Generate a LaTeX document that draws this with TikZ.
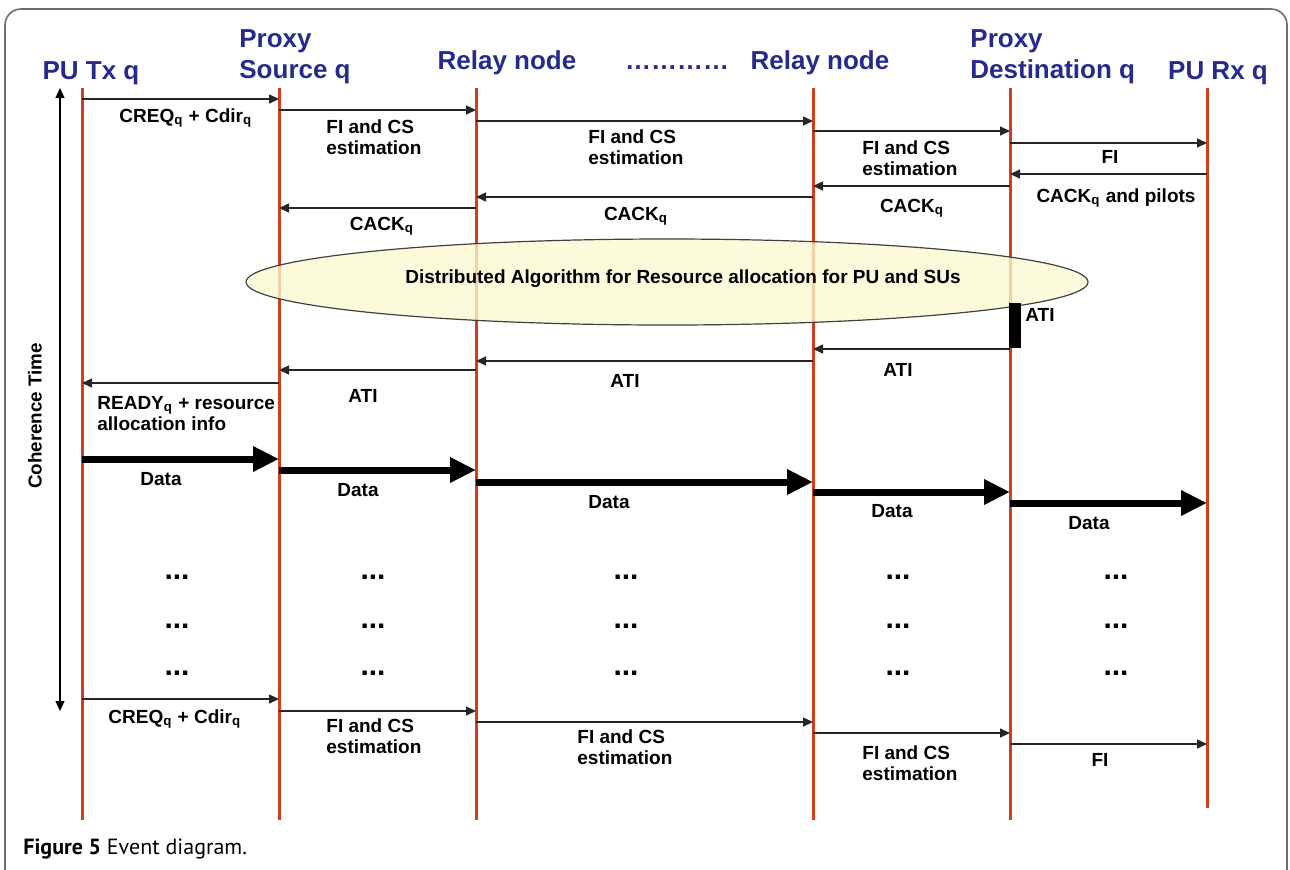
\documentclass[tikz,border=0pt]{standalone}
\usepackage{fontspec}
\setmainfont{Liberation Sans}
\newfontfamily\capfont{PT Sans}
\usetikzlibrary{arrows.meta,shapes.geometric}
\definecolor{lifered}{RGB}{214,62,26}
\definecolor{hblue}{RGB}{38,42,140}
\definecolor{ellfill}{RGB}{250,250,210}
\definecolor{framegray}{RGB}{110,110,110}
\begin{document}
\begin{tikzpicture}[x=0.5pt,y=-0.5pt,
  lifeline/.style={draw=lifered,line width=1.5pt},
  msg/.style={draw=black!85,line width=0.75pt,-{Triangle[length=5pt,width=4.5pt]}},
  datamsg/.style={draw=black,line width=3.5pt,-{Triangle[length=13pt,width=12pt]}},
  timearrow/.style={draw=black,line width=0.6pt,{Triangle[length=5pt,width=4.5pt]}-{Triangle[length=5pt,width=4.5pt]}},
  hdr/.style={font=\bfseries\fontsize{13}{15}\selectfont,text=hblue,inner sep=0pt},
  lbl/.style={font=\bfseries\fontsize{9.5}{10.5}\selectfont,align=left,inner sep=0pt},
  dotsym/.style={font=\bfseries\fontsize{15}{15}\selectfont,inner sep=0pt},
]
\useasboundingbox (0,0) rectangle (1290,869);
\draw[framegray,line width=0.8pt,rounded corners=8pt] (5,9) rectangle (1287,930);

% headers
\node[hdr,anchor=base] (hTx) at (91,79) {PU Tx q};
\node[hdr,anchor=base west] (hPS1) at (239,47) {Proxy};
\node[hdr,anchor=base west] (hPS2) at (239,78) {Source q};
\node[hdr,anchor=base] (hR1) at (507,69) {Relay node};
\node[hdr,anchor=base] (hDots) at (677,69) {…………};
\node[hdr,anchor=base] (hR2) at (820,69) {Relay node};
\node[hdr,anchor=base west] (hPD1) at (970,47) {Proxy};
\node[hdr,anchor=base west] (hPD2) at (970,78) {Destination q};
\node[hdr,anchor=base] (hRx) at (1218,79) {PU Rx q};

% lifelines
\coordinate (L1) at (82,88);
\coordinate (L2) at (279,88);
\coordinate (L3) at (476,88);
\coordinate (L4) at (813,88);
\coordinate (L5) at (1010,88);
\coordinate (L6) at (1207,88);
\foreach \c in {L1,L2,L3,L4,L5} \draw[lifeline] (\c) -- (\c |- 0,820);
\draw[lifeline] (L6) -- (L6 |- 0,808);

% coherence time
\coordinate (tTop) at (60,88);
\coordinate (tBot) at (60,711);
\draw[timearrow] (tBot) -- (tTop);
\node[font=\bfseries\fontsize{9.4}{10}\selectfont,rotate=90,inner sep=0pt] (coh) at (35,416) {Coherence Time};

% request phase
\draw[msg] (L1 |- 0,99) -- (L2 |- 0,99);
\node[lbl,anchor=base west] (m1) at (119,122) {CREQ\textsubscript{q} + Cdir\textsubscript{q}};
\draw[msg] (L2 |- 0,110) -- (L3 |- 0,110);
\node[lbl,anchor=base west] (m2) at (326,154) {FI and CS\\estimation};
\draw[msg] (L3 |- 0,121) -- (L4 |- 0,121);
\node[lbl,anchor=base west] (m3) at (588,164) {FI and CS\\estimation};
\draw[msg] (L4 |- 0,131) -- (L5 |- 0,131);
\node[lbl,anchor=base west] (m4) at (862,175) {FI and CS\\estimation};
\draw[msg] (L5 |- 0,143) -- (L6 |- 0,143);
\node[lbl,anchor=base] (m5) at (1110,163) {FI};

% acknowledgements
\draw[msg] (L6 |- 0,174) -- (L5 |- 0,174);
\node[lbl,anchor=base] (m6) at (1116,202) {CACK\textsubscript{q} and pilots};
\draw[msg] (L5 |- 0,186) -- (L4 |- 0,186);
\node[lbl,anchor=base] (m7) at (912,212) {CACK\textsubscript{q}};
\draw[msg] (L4 |- 0,197) -- (L3 |- 0,197);
\node[lbl,anchor=base] (m8) at (636,220) {CACK\textsubscript{q}};
\draw[msg] (L3 |- 0,208) -- (L2 |- 0,208);
\node[lbl,anchor=base] (m9) at (382,230) {CACK\textsubscript{q}};

% algorithm ellipse
\node[ellipse,draw=black!75,line width=0.6pt,fill=ellfill,fill opacity=0.78,minimum width=421pt,minimum height=43pt,inner sep=0pt] (algo) at (667,282) {};
\node[lbl,anchor=base] (algoTxt) at (683,283) {Distributed Algorithm for Resource allocation for PU and SUs};

% ATI
\node[fill=black,inner sep=0pt,minimum width=6pt,minimum height=22.5pt,anchor=north west] (bar) at (1009,303) {};
\node[lbl,anchor=base west] (ati0) at (1025,321) {ATI};
\draw[msg] (L5 |- 0,349) -- (L4 |- 0,349);
\node[lbl,anchor=base] (ati1) at (898,376) {ATI};
\draw[msg] (L4 |- 0,361) -- (L3 |- 0,361);
\node[lbl,anchor=base] (ati2) at (625,387) {ATI};
\draw[msg] (L3 |- 0,370) -- (L2 |- 0,370);
\node[lbl,anchor=base] (ati3) at (363,402) {ATI};
\draw[msg] (L2 |- 0,383) -- (L1 |- 0,383);
\node[lbl,anchor=base west] (ready) at (97,430) {READY\textsubscript{q} + resource\\allocation info};

% data
\draw[datamsg] (L1 |- 0,459) -- (L2 |- 0,459);
\node[lbl,anchor=base] (d1) at (161,485) {Data};
\draw[datamsg] (L2 |- 0,470) -- (L3 |- 0,470);
\node[lbl,anchor=base] (d2) at (358,496) {Data};
\draw[datamsg] (L3 |- 0,482) -- (L4 |- 0,482);
\node[lbl,anchor=base] (d3) at (609,508) {Data};
\draw[datamsg] (L4 |- 0,492) -- (L5 |- 0,492);
\node[lbl,anchor=base] (d4) at (892,517) {Data};
\draw[datamsg] (L5 |- 0,503) -- (L6 |- 0,503);
\node[lbl,anchor=base] (d5) at (1089,529) {Data};

% continuation dots
\foreach \x/\i in {177/a,373/b,626/c,898/d,1116/e}
  \foreach \y/\j in {577/1,626/2,673/3}
    \node[dotsym] (dot\i\j) at (\x,\y) {...};

% repeat phase
\draw[msg] (L1 |- 0,699) -- (L2 |- 0,699);
\node[lbl,anchor=base west] (n1) at (108,723) {CREQ\textsubscript{q} + Cdir\textsubscript{q}};
\draw[msg] (L2 |- 0,711) -- (L3 |- 0,711);
\node[lbl,anchor=base west] (n2) at (326,753) {FI and CS\\estimation};
\draw[msg] (L3 |- 0,722) -- (L4 |- 0,722);
\node[lbl,anchor=base west] (n3) at (577,764) {FI and CS\\estimation};
\draw[msg] (L4 |- 0,733) -- (L5 |- 0,733);
\node[lbl,anchor=base west] (n4) at (862,780) {FI and CS\\estimation};
\draw[msg] (L5 |- 0,744) -- (L6 |- 0,744);
\node[lbl,anchor=base] (n5) at (1100,766) {FI};

% caption
\node[anchor=base west,inner sep=0pt,font=\capfont\fontsize{11}{13}\selectfont] (cap) at (23,854) {\textbf{Figure 5} Event diagram.};
\end{tikzpicture}
\end{document}
